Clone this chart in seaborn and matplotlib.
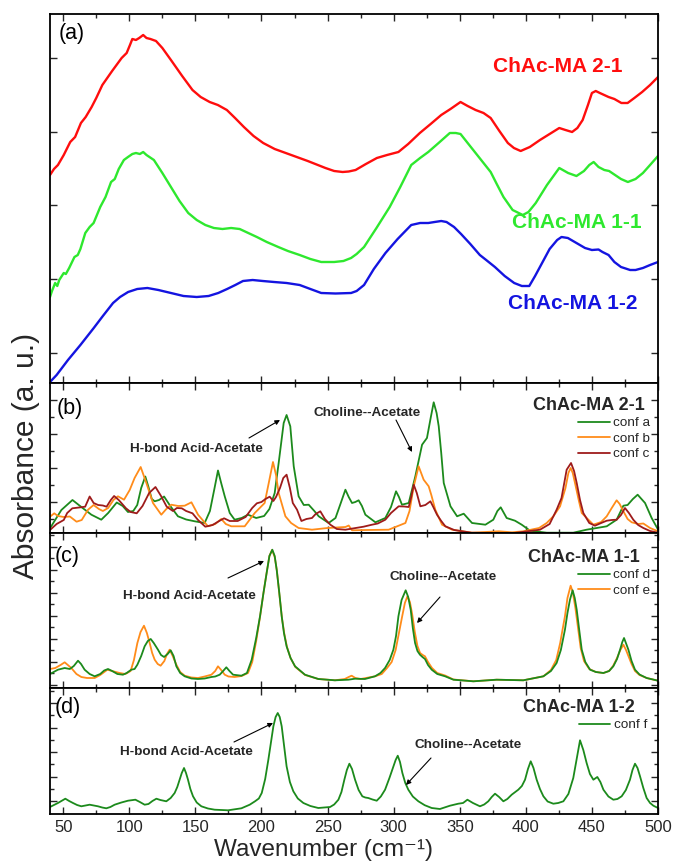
import numpy as np
import pandas as pd
import matplotlib
matplotlib.use("Agg")
import matplotlib.pyplot as plt
import seaborn as sns
from matplotlib.ticker import MultipleLocator, FixedLocator

# ---------------- data ----------------
# Panel (a): measured spectra (arbitrary units, offset curves)
red_w = [40, 43, 46, 50.4, 55.3, 59, 63.4, 67, 71.5, 75, 79.6, 87, 94.2, 98, 100.5, 102.3, 105, 107.5, 110.5, 113,
         116, 120.2, 125, 131.5, 140, 147.8, 154, 160.8, 167, 173.8, 180, 186.7, 194, 201.3, 210, 222.5, 235, 248.4,
         255, 261.4, 266, 271.2, 279, 287.3, 295, 303.6, 311, 319.8, 328, 336, 343, 350.6, 356, 362, 368, 373.4, 380,
         386.4, 391, 396.1, 403, 410.7, 418, 425.3, 430, 435, 439, 443, 447, 450, 452.9, 456, 462.6, 467, 472.3, 477,
         482.1, 488, 494, 500]
red_v = [208, 214, 218, 228, 241, 246, 260, 266, 276, 285, 298, 312, 325, 330, 338, 344, 343, 345, 348, 345,
         344, 342, 335, 323, 307, 293, 286, 281, 278, 273, 265, 256, 247, 240, 234, 228, 222, 215,
         212, 211, 211.5, 213, 219, 225, 228, 231, 239, 250, 259, 268, 274, 281, 277, 273, 270, 265, 252,
         240, 235, 232, 236, 243, 249, 255, 253, 251, 255, 263, 278, 290, 292, 290, 286, 284, 280, 280,
         285, 291, 298, 306]

green_w = [40, 41.5, 43.9, 45.5, 47, 50.4, 52, 54.5, 58.5, 61, 63, 66.7, 70, 73, 78, 82, 86.2, 89, 92, 95.9, 99,
           102.3, 105, 108, 110.5, 113, 118.6, 125, 131.5, 138, 144.6, 151, 157.5, 164, 170.5, 177, 183.5, 190,
           196.5, 204, 212.7, 220, 228.9, 237, 245.2, 255, 262, 267.8, 272, 277.6, 287, 297, 305, 313.3, 320, 326.2,
           334, 342.5, 347, 350.6, 356, 362, 368, 373.4, 378, 383.1, 390, 397.7, 402, 407.5, 416, 425.3, 432, 438.3,
           444, 448, 451.3, 455, 459.4, 463, 467.5, 472, 477.2, 483, 488.6, 494, 500]
green_v = [86, 92, 100, 97, 103, 110, 109, 115, 126, 128, 134, 150, 156, 160, 176, 186, 201, 204, 214, 223, 226,
           229, 230, 229, 231, 228, 223, 210, 196, 182, 170, 163, 158, 155, 154, 155, 154, 150,
           146, 141, 136, 132, 128, 124, 121, 121, 122, 125, 129, 136, 155, 176, 196, 218, 225, 231,
           240, 250, 250, 249, 240, 230, 220, 211, 199, 186, 173, 168, 171, 180, 198, 215, 210, 207,
           212, 218, 221, 216, 213, 212, 208, 204, 201, 204, 210, 218, 227]

blue_w = [40, 45, 53.6, 63, 73.1, 80, 87.7, 93, 99.1, 106, 113.7, 122, 131.5, 141, 151, 160, 167.3, 174, 180.2, 186,
          193.3, 201, 209.5, 219, 228.9, 237, 245.2, 256, 267.8, 272, 277.6, 285, 293.8, 303, 313.3, 320, 326.2, 331,
          336, 340, 345.7, 351, 358, 365.2, 370, 376.6, 384, 391.2, 397, 402.6, 407, 412.3, 418, 423.7, 427, 431.8,
          437, 444.8, 450, 455, 458, 462.6, 467, 472, 478.9, 483, 488.6, 494, 500]
blue_v = [1, 8, 23, 38, 55, 67, 80, 86, 91, 94, 95, 93, 90, 87, 86, 87, 90, 94, 98, 102,
          103, 102, 101, 100, 98, 94, 90, 89.5, 90, 92, 98, 114, 130, 144, 158, 160, 160, 161,
          162, 161, 156, 149, 139, 128, 123, 116, 107, 100, 97, 97, 107, 120, 134, 143, 146, 145,
          141, 135, 133, 133.5, 131, 128, 121, 116, 113, 113, 115, 118, 121]

# Panel (b): ChAc-MA 2-1, conf a / b / c
conf_a_w = [40, 48.6, 57, 63.7, 71.3, 78.8, 84, 90.5, 95, 99, 103, 106, 109, 112.1, 114.5, 117, 119.2, 122.5, 126.3,
            131, 136.8, 143, 149.5, 157, 161, 164.5, 167.1, 169.5, 172.2, 176, 179.7, 185, 189.8, 196, 202, 206, 210,
            213, 216.8, 219, 221.8, 224.4, 228.1, 232, 235.7, 240, 243.3, 250.8, 256, 260, 263.5, 266, 268.5, 271,
            273.5, 276, 278.6, 286.2, 293.7, 298, 301.8, 304, 306.3, 311.4, 316.4, 321.5, 325.2, 328, 330.3, 332.5,
            334.1, 336, 337.9, 343, 348, 353, 359.3, 369.4, 375.4, 378.5, 381, 385.5, 391.8, 396.9, 403.2, 415.8,
            435.9, 446, 461.2, 468.7, 473.8, 477, 481, 484.6, 490.2, 495.2, 500]
conf_a_v = [4.7, 23, 33, 26, 18.3, 13.3, 20, 30.5, 27, 21, 22, 28, 45, 56.5, 46, 34, 31.7, 33, 36.5,
            27, 16.7, 13.5, 11.7, 10, 22, 45, 62.5, 50, 36.7, 20, 13.3, 15, 18.3, 15, 17, 24, 40,
            70, 110, 118, 106.7, 66.7, 36.7, 28, 28.3, 22, 16.7, 10, 15, 30, 43.3, 36, 30, 31,
            32.7, 27, 18.3, 10.7, 15, 26, 41.7, 36, 28.3, 30, 56.7, 88.3, 95, 115, 130.7, 120,
            106.7, 80, 50, 26.7, 16.7, 19.3, 10, 8.3, 13.3, 22, 25.7, 15, 12.3, 8.3, 2.3, 0.3,
            0.3, 3.3, 6.7, 13.3, 27.3, 28, 34, 38.3, 30, 15, 3.5]

conf_b_w = [40, 43.2, 46, 50.4, 55, 60.1, 64, 68.8, 73, 77, 80, 84, 88, 91.4, 96, 100.3, 104, 108.6, 112.9, 117.9,
            124.2, 128, 131.8, 137, 141.9, 147, 152, 159.5, 165, 169.6, 173, 177.2, 187.3, 194.9, 202.4, 205.5,
            208.7, 211, 213, 218.1, 222.4, 228.1, 238.2, 250, 263.5, 266, 268.5, 280, 296.2, 308.9, 312, 315.2,
            318.9, 322.7, 326.5, 328.5, 331.5, 336.6, 344.2, 359.3, 379.5, 389.6, 398.1, 410, 415.8, 421, 425.9,
            430, 432.2, 433.9, 435.5, 437.2, 440, 442.3, 451.1, 457, 461.2, 465, 468.7, 471, 473.8, 477, 480.1,
            485, 488.9, 494, 500]
conf_b_v = [16.3, 19.7, 17, 16, 16.5, 11.3, 13, 23.3, 28, 24, 22, 25, 33, 36.7, 33.3, 43, 55, 66, 50, 30,
            18.3, 24, 28.3, 27, 27.3, 30.7, 18.3, 6.7, 9, 14, 9, 6.7, 6.7, 20, 30, 50,
            71, 58, 40, 16.7, 10, 5, 3.3, 5, 6, 7.5, 2.7, 3, 3.3, 10, 22, 46.7,
            66.7, 53.3, 46.7, 38, 23.3, 8.3, 3.3, 0.3, 1.7, 0.7, 1.7, 5, 10, 17, 26.7,
            45, 60, 65, 60, 50, 33, 20, 8.3, 11, 16.7, 25, 32.7, 29, 21.7, 14, 10.7,
            9, 9.5, 5, 1.7]

conf_c_w = [40, 45, 50.4, 53, 56.9, 62, 66.6, 70, 73, 76.4, 80, 82.8, 86, 88.5, 92, 97.5, 101, 105.6, 110, 115,
            119.8, 124, 128.3, 133, 136, 139.7, 143, 147.8, 152, 157.5, 163, 168, 171.7, 176, 182, 188, 193, 196.5,
            200, 203, 206.2, 209, 211, 214, 216.5, 219, 221.5, 223.7, 226.9, 230.2, 234, 238.2, 241, 244.5, 248,
            252.1, 257, 263.5, 277.2, 283.6, 288, 293.7, 298, 303.8, 308, 311.4, 313.3, 315.2, 317.5, 320.2, 324,
            327.8, 330, 332.8, 336, 339.1, 345.8, 358.8, 372.9, 391.2, 410.7, 418, 423.3, 427, 430.9, 434.2, 436.5,
            438.5, 441, 443.5, 448, 452.3, 457, 461.2, 465, 468.7, 472, 475, 478, 481.3, 485, 488.9, 494, 500]
conf_c_v = [3, 9, 13, 20, 24.7, 25.5, 26.3, 36.5, 30, 28, 27.5, 26.3, 33, 37, 33, 24.7, 21, 19.7, 27, 40,
            46, 37, 26.3, 22, 25, 24.7, 22, 19.7, 13, 6.3, 8, 12, 14.7, 12, 12, 16, 25, 29.7,
            31, 34, 36.3, 32, 36, 45, 55, 58.3, 45, 30, 23.3, 12, 14, 15, 19, 21.7, 14,
            8.3, 4, 3.3, 6.3, 8.3, 9.5, 13.3, 20, 26.7, 26.5, 26, 36, 48.3, 40, 26.7, 28,
            31.7, 26, 18.3, 12, 6.7, 3, 0.3, 0, 0, 3.3, 9, 23.3, 35, 63.3, 70, 62,
            50, 33, 20, 10, 7.3, 10, 12.3, 13, 13.3, 18, 25, 20, 13.3, 8, 5, 2, 0.3]

# Panel (c): ChAc-MA 1-1, conf d / e
conf_d_w = [40, 46, 51.1, 55, 58, 61.2, 63.5, 66.2, 70, 73.8, 78, 81, 83.9, 87, 91, 95.2, 98, 101.5, 104, 106.1, 109,
            111.6, 114, 116.2, 118.5, 121.7, 124, 126.3, 129, 131.3, 133.5, 135.6, 138.5, 141.9, 147, 152, 157, 162.1,
            165, 168.4, 171, 173.4, 175.8, 178.5, 184.8, 189, 192.6, 196, 198.9, 201.5, 203.9, 206, 208.2, 210, 211.5,
            213.5, 215.3, 217, 219, 222, 225.4, 232.9, 243, 255.6, 265.7, 270.8, 278.3, 285.9, 290, 293.5, 297, 299.8,
            301.8, 303.6, 306, 309.1, 311, 312.9, 314.5, 316.2, 318, 319.9, 321.8, 323.7, 326, 328.8, 333, 338.9,
            345.2, 360.3, 377.9, 398.1, 413.3, 419, 423.3, 426.5, 429.6, 431.5, 433.4, 435.4, 437, 438.5, 440.5,
            442.3, 445, 448.6, 453, 458.7, 463, 466.2, 469, 471.3, 473, 474.3, 476, 477.6, 480, 482.6, 486, 491.4, 500]
conf_d_v = [14, 18.3, 20, 19, 22, 27.3, 24, 18.3, 14, 11.7, 14, 17.5, 19, 17, 14, 13.3, 15, 18.3, 19, 23.3, 32,
            41.7, 47, 49, 45, 38.3, 33, 31, 34, 37.7, 32, 21.7, 15, 11.7, 9.5, 9, 9.5, 11,
            11.5, 13.3, 17, 20.7, 17, 13.3, 12.3, 15, 28.3, 50, 71.7, 95, 115, 132, 138.3, 132, 118.3,
            95, 71.7, 55, 41.7, 30, 21.7, 13.3, 9, 7.7, 8.3, 9.3, 9, 11.7, 15, 20, 28, 38.3,
            52, 71.7, 88, 97.7, 91, 78.3, 60, 45, 37, 33.3, 31, 29, 23, 18.3, 14, 11.7,
            8.3, 6.7, 8.3, 7.7, 11.7, 17, 25, 38, 58.3, 75, 88.3, 97.7, 90, 78.3, 57,
            38.3, 26, 18.3, 16, 15, 17, 21.7, 29, 38.3, 46, 50, 44, 38.3, 27, 18.3, 13.5, 10, 7.3]

conf_e_w = [40, 44, 48, 51.1, 53.5, 56.1, 60, 63.7, 68, 73.8, 78, 83.4, 87, 92.7, 97, 101, 103.5, 106.1, 108.5, 111.1,
            113.3, 115.4, 117.3, 119.2, 121.5, 123.7, 126.5, 128.5, 130.5, 132.5, 135.6, 138.5, 141.9, 147, 152, 157,
            162.1, 165, 167.1, 169.5, 172.2, 175, 179.7, 185, 189.8, 193, 196, 199, 201.5, 204, 206, 208, 210, 211.7,
            213.5, 215.5, 217.3, 219.3, 222, 225.6, 233, 243, 255.6, 263, 266, 268.2, 271, 275, 285.9, 291, 295,
            298.5, 301.5, 304, 306.5, 308.5, 310.4, 312.3, 314, 316, 318, 320, 322, 323.7, 326, 329, 333, 338.9,
            345.2, 360.3, 377.9, 398.1, 413.3, 419, 423, 426, 428, 429.6, 431.5, 433.9, 435.5, 437.5, 439.5, 441.5,
            444, 448, 453, 458.7, 463, 466, 469, 471.5, 473.8, 475.8, 477.6, 480, 482.6, 486, 491.4, 500]
conf_e_v = [19, 20, 23, 25.7, 23, 20, 14, 11, 10, 10, 13, 18.3, 17, 15, 14, 17, 28, 45, 56, 62.3,
            55, 45, 35, 28.3, 24, 22.3, 27, 34, 38.3, 33, 23.3, 16, 12.3, 10.5, 10, 11.5,
            13.3, 17, 21.7, 18, 13.3, 11.5, 11, 12, 15, 26, 47, 72, 95, 116, 132, 138, 131, 117,
            94, 70, 54, 41, 30, 21, 13, 9, 7.7, 9, 11, 12.3, 10, 9, 11.7, 14, 20,
            26, 38, 55, 72, 85, 91.7, 86, 74, 56, 42, 35, 33, 31.7, 26, 20, 15, 12.5,
            8.5, 6.7, 8.3, 7.7, 11.7, 18, 28, 45, 60, 71.7, 90, 102.3, 96, 80, 60, 40,
            27, 19, 16, 15, 17, 22, 30, 38, 43.3, 38, 32, 24, 17, 13, 10, 7.3]

# Panel (d): ChAc-MA 1-2, conf f
conf_f_w = [40, 46, 51.6, 54.5, 57.4, 60.5, 63.7, 67, 70, 73, 76.3, 79.5, 82.6, 85.7, 88.9, 94, 99, 104.6, 108, 111.6,
            114.5, 117.5, 120.5, 123.5, 128, 131.3, 134.3, 136.3, 138.1, 139.7, 141.4, 142.9, 144.4, 146.2, 148.2, 151,
            154.5, 159.5, 164.6, 174.7, 184.8, 191.1, 195.1, 198, 200.2, 202.8, 205.2, 207.2, 209, 210.7, 212.3, 213.8,
            215.3, 217.2, 219, 221.5, 224.1, 227.5, 231.7, 237, 243, 251.9, 255, 258.2, 260.5, 262.7, 264.6, 266.5,
            268.5, 270.8, 273.5, 276.3, 278.5, 280.8, 284, 287.2, 290.3, 293.5, 296.8, 299.8, 301.5, 303.1, 304.8,
            306.6, 308.8, 311.1, 314.5, 318.7, 323.5, 328.8, 335, 342.6, 348.9, 352.5, 355.8, 360, 365.3, 368.5,
            371.6, 374.2, 376.7, 379.8, 383, 386, 389.3, 394.3, 397, 399.4, 401.6, 403.7, 405.8, 408.2, 410.7, 413.3,
            416.5, 420.8, 424.5, 428.4, 432.2, 435.9, 438.5, 441, 443.5, 446, 448.5, 451.1, 454.1, 456.4, 458.7,
            462.5, 466.2, 469.3, 472.5, 475.7, 478.8, 480.7, 482.6, 484.5, 486.4, 488.9, 491.4, 494, 496.5, 500]
conf_f_v = [7, 11, 15.3, 13, 11, 9, 7.7, 8.5, 9.3, 8.5, 7.7, 6.5, 5.7, 7, 9.3, 11.5, 13.3, 14.3, 12, 9.3,
            10, 13, 15.3, 14, 12.7, 16, 21, 27, 34.3, 41, 46, 41, 34.3, 25, 17.7, 11.5,
            7.7, 5.5, 4.3, 3.7, 5.7, 9.3, 12.7, 15.5, 21, 35, 54.3, 72, 87.7, 97, 101, 97,
            87.7, 67, 47.7, 32, 22.7, 15.5, 11, 8, 6, 7, 9.5, 14.3, 22, 34.3, 44, 50.3,
            45, 34.3, 24, 17.7, 16.5, 16, 14.5, 13.3, 17.5, 24.3, 36, 47.7, 54, 58.3, 52,
            41, 31, 24.3, 17.5, 12.7, 8.8, 6, 5, 8.3, 10.3, 11, 14.3, 11, 7.7, 9.5,
            12.7, 17, 20.3, 17, 12.7, 15, 19.3, 24.3, 28, 34.3, 45, 52.7, 46, 34.3, 25, 17.7,
            12.5, 10.3, 11, 12.7, 20, 36, 55, 73.7, 64, 51, 40, 34.3, 37, 32, 24.3,
            17.5, 14.3, 15, 17.7, 24, 34.3, 44, 50.3, 46, 37.7, 26, 16, 11, 8.3, 6]

x_ticks = [50, 100, 150, 200, 250, 300, 350, 400, 450, 500]
panel_letters = ["(a)", "(b)", "(c)", "(d)"]
sample_names = ["ChAc-MA 2-1", "ChAc-MA 1-1", "ChAc-MA 1-2"]

# ---------------- styling ----------------
sns.set_style("ticks")
plt.rcParams["font.family"] = ["Liberation Sans", "DejaVu Sans"]

W, H = 673, 863
fig = plt.figure(figsize=(W / 100, H / 100), dpi=100)


def fx(px):
    return px / W


def fy(py):
    return 1 - py / H


LEFT, RIGHT = 50, 658
panels = [(14, 383), (383, 533), (533, 688), (688, 814)]
ylims = [369, 150, 155, 126]
axes = []
for (top, bot), ym in zip(panels, ylims):
    ax = fig.add_axes([fx(LEFT), fy(bot), (RIGHT - LEFT) / W, (bot - top) / H])
    ax.set_xlim(40, 500)
    ax.set_ylim(0, ym)
    axes.append(ax)

RED, LIME, BLUE = "#ff0d0d", "#2ee82e", "#1414e0"
DGREEN, ORANGE, DRED = "#1c8a1c", "#ff8c1a", "#9e1b1b"

# Panel a
ax = axes[0]
for w, v, c in [(red_w, red_v, RED), (green_w, green_v, LIME), (blue_w, blue_v, BLUE)]:
    sns.lineplot(x=w, y=v, ax=ax, color=c, lw=1.7, estimator=None, sort=False, legend=False)

# Panel b
ax = axes[1]
for w, v, c, lab in [(conf_a_w, conf_a_v, DGREEN, "conf a"), (conf_b_w, conf_b_v, ORANGE, "conf b"),
                     (conf_c_w, conf_c_v, DRED, "conf c")]:
    sns.lineplot(x=w, y=v, ax=ax, color=c, lw=1.3, estimator=None, sort=False, label=lab)

# Panel c
ax = axes[2]
sns.lineplot(x=conf_e_w, y=conf_e_v, ax=ax, color=ORANGE, lw=1.3, estimator=None, sort=False, label="conf e")
sns.lineplot(x=conf_d_w, y=conf_d_v, ax=ax, color=DGREEN, lw=1.3, estimator=None, sort=False, label="conf d")

# Panel d
ax = axes[3]
sns.lineplot(x=conf_f_w, y=conf_f_v, ax=ax, color=DGREEN, lw=1.3, estimator=None, sort=False, label="conf f")

# ticks / spines
ytick_specs = [
    (np.arange(30, 369, 73.8), None),
    (np.arange(30.7, 150, 34.2), np.arange(13.6, 150, 34.2)),
    (np.arange(3.5, 155, 23), np.arange(15, 155, 23)),
    (np.arange(12.7, 126, 24.6), np.arange(25, 126, 24.6)),
]
for i, ax in enumerate(axes):
    ax.set_xlabel("")
    ax.set_ylabel("")
    ax.xaxis.set_major_locator(FixedLocator(x_ticks))
    ax.xaxis.set_minor_locator(MultipleLocator(25))
    maj, mnr = ytick_specs[i]
    ax.yaxis.set_major_locator(FixedLocator(maj))
    if mnr is not None:
        ax.yaxis.set_minor_locator(FixedLocator(mnr))
    ax.tick_params(which="both", direction="in", top=True, right=True, bottom=True, left=True,
                   labelleft=False, labelbottom=(i == 3), width=1.0)
    ax.tick_params(which="major", length=5, labelsize=12, pad=4)
    ax.tick_params(which="minor", length=3)
    for s in ax.spines.values():
        s.set_linewidth(1.3)
        s.set_color("black")

# legends
handles_b, labels_b = axes[1].get_legend_handles_labels()
handles_c, labels_c = axes[2].get_legend_handles_labels()
handles_c, labels_c = handles_c[::-1], labels_c[::-1]
handles_d, labels_d = axes[3].get_legend_handles_labels()
for ax, hh, ll, (rx, ty) in [(axes[1], handles_b, labels_b, (650, 417)),
                              (axes[2], handles_c, labels_c, (650, 569)),
                              (axes[3], handles_d, labels_d, (647, 719))]:
    ax.legend(hh, ll, loc="upper right", bbox_to_anchor=(fx(rx), fy(ty)), bbox_transform=fig.transFigure,
              frameon=False, borderpad=0, borderaxespad=0, handlelength=2.35, handletextpad=0.25,
              labelspacing=0.22, fontsize=9.7)

# panel letters
for letter, (px, py) in zip(panel_letters, [(59, 33), (57, 408), (55, 556), (55, 708)]):
    fig.text(fx(px), fy(py), letter, ha="left", va="center", fontsize=15.5, color="black")

# sample names in panel a
fig.text(fx(558), fy(67), sample_names[0], ha="center", va="center", fontsize=15, fontweight="bold", color=RED)
fig.text(fx(577), fy(223), sample_names[1], ha="center", va="center", fontsize=15, fontweight="bold", color=LIME)
fig.text(fx(573), fy(303), sample_names[2], ha="center", va="center", fontsize=15, fontweight="bold", color=BLUE)

# sample names in b-d
fig.text(fx(645), fy(406), sample_names[0], ha="right", va="center", fontsize=13, fontweight="bold")
fig.text(fx(640), fy(557), sample_names[1], ha="right", va="center", fontsize=13, fontweight="bold")
fig.text(fx(635), fy(708), sample_names[2], ha="right", va="center", fontsize=13, fontweight="bold")

# annotations (text, text centre, arrow tail, arrow head, panel index)
ann_texts = [
    ("H-bond Acid-Acetate", (196, 449), (249, 438), (280, 420), 1),
    ("Choline--Acetate", (367, 413), (396, 420), (412, 452), 1),
    ("H-bond Acid-Acetate", (189, 596), (228, 578), (264, 561), 2),
    ("Choline--Acetate", (443, 577), (440, 597), (417, 623), 2),
    ("H-bond Acid-Acetate", (186, 752), (234, 742), (273, 723), 3),
    ("Choline--Acetate", (468, 745), (431, 758), (406, 785), 3),
]
for txt, (tx, ty), (x1, y1), (x2, y2), k in ann_texts:
    fig.text(fx(tx), fy(ty), txt, ha="center", va="center", fontsize=9.7, fontweight="bold")
    axes[k].annotate("", xy=(fx(x2), fy(y2)), xytext=(fx(x1), fy(y1)), xycoords="figure fraction",
                     textcoords="figure fraction", annotation_clip=False, zorder=10,
                     arrowprops=dict(arrowstyle="-|>", color="black", lw=0.8, mutation_scale=7,
                                     shrinkA=0, shrinkB=0))

# axis labels
fig.text(fx(323), fy(849.5), "Wavenumber (cm\u207b\u00b9)", ha="center", va="center", fontsize=17.5,
         family=["Liberation Sans", "DejaVu Sans"])
fig.text(fx(26), fy(456), "Absorbance (a. u.)", ha="center", va="center", rotation=90, fontsize=21.5)

fig.savefig("out.png", dpi=100)
